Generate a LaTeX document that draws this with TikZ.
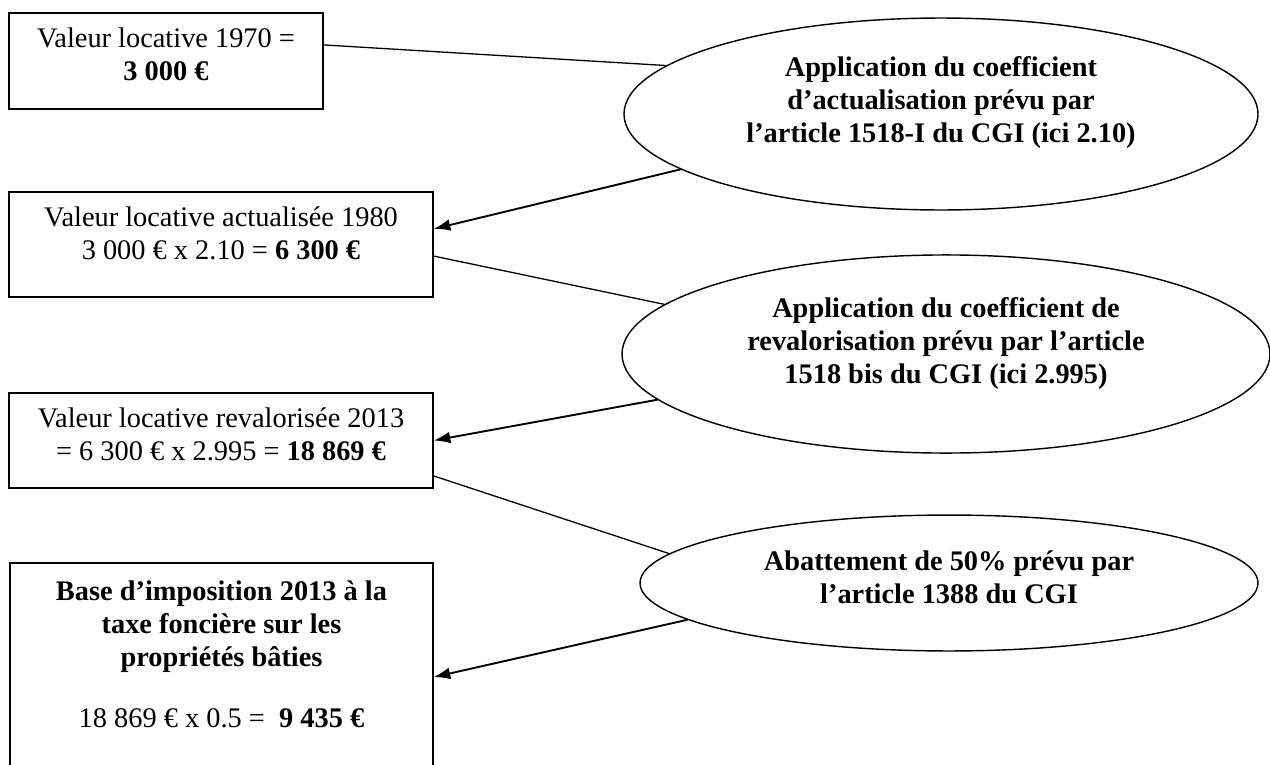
\documentclass[tikz,border=0pt]{standalone}
\usepackage{fontspec}
\setmainfont{Liberation Serif}
\usetikzlibrary{arrows.meta,shapes.geometric}

% text lifted towards the top of its frame
\newcommand{\liftup}[2]{\raisebox{#1}[\height][\depth]{\begin{tabular}{@{}c@{}}#2\end{tabular}}}

\tikzset{
  valbox/.style={draw, line width=0.6pt, inner sep=0pt},
  stepell/.style={draw, ellipse, line width=0.6pt, inner sep=0pt,
    font=\fontsize{12}{14}\selectfont\bfseries},
  link/.style={line width=0.55pt},
  arrowlink/.style={line width=0.8pt, -{Latex[length=7pt,width=5pt]}},
}

\begin{document}
\begin{tikzpicture}[x=0.423pt, y=-0.423pt, font=\fontsize{12}{14}\selectfont]
	\useasboundingbox (0,0) rectangle (1270,765);
	% values (left)
	\node[valbox, minimum width=132.8pt, minimum height=40.6pt] (v1970) at (166,61)
		{\liftup{1.5pt}{Valeur locative 1970 =\\\textbf{3 000 €}}};
	\node[valbox, minimum width=179.4pt, minimum height=44.4pt] (v1980) at (221,244.5)
		{\liftup{3.4pt}{Valeur locative actualisée 1980\\3 000 € x 2.10 = \textbf{6 300 €}}};
	\node[valbox, minimum width=179.4pt, minimum height=40.2pt] (v2013) at (221,440.5)
		{\liftup{1.3pt}{Valeur locative revalorisée 2013\\= 6 300 € x 2.995 = \textbf{18 869 €}}};
	\node[valbox, minimum width=178.9pt, minimum height=86.7pt] (base) at (221.5,665.5)
		{\liftup{3.4pt}{\textbf{Base d’imposition 2013 à la}\\\textbf{taxe foncière sur les}\\
		 \textbf{propriétés bâties}\\[12pt]18 869 € x 0.5 = \ \textbf{9 435 €}}};
	%
	% steps (right)
	\node[stepell, minimum width=268.2pt, minimum height=81.2pt] (coef1) at (941,114)
		{\liftup{4.7pt}{Application du coefficient\\d’actualisation prévu par\\l’article 1518-I du CGI (ici 2.10)}};
	\node[stepell, minimum width=274.1pt, minimum height=83.8pt] (coef2) at (946,354)
		{\liftup{4.2pt}{Application du coefficient de\\revalorisation prévu par l’article\\1518 bis du CGI (ici 2.995)}};
	\node[stepell, minimum width=261.4pt, minimum height=57.5pt] (abat) at (949,583)
		{\liftup{1.3pt}{Abattement de 50\% prévu par\\l’article 1388 du CGI}};
	%
	\draw[link] ([yshift=6.8pt]v1970.east) -- (coef1.170);
	\draw[arrowlink] (coef1.192) -- ([yshift=6.6pt]v1980.east);
	\draw[link] ([yshift=-4.9pt]v1980.east) -- (coef2.170);
	\draw[arrowlink] (coef2.189) -- (v2013.east);
	\draw[link] ([yshift=-15pt]v2013.east) -- (abat.174);
	\draw[arrowlink] (abat.188) -- ([yshift=-4.9pt]base.east);
\end{tikzpicture}
\end{document}
